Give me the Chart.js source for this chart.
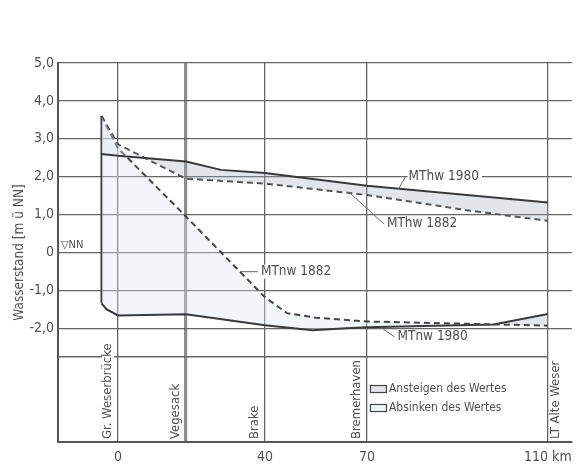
<!DOCTYPE html>
<html>
<head>
<meta charset="utf-8">
<script src="https://cdn.jsdelivr.net/npm/chart.js@4/dist/chart.umd.min.js"></script>
<style>
  html, body { margin: 0; padding: 0; background: #fff; }
  #wrap { width: 579px; height: 468px; }
</style>
</head>
<body>
<div id="wrap"><canvas id="myChart" width="579" height="468"></canvas></div>
<script>
// stations along the Weser (river km)
const stationNames = ["Gr. Weserbrücke", "Vegesack", "Brake", "Bremerhaven", "LT Alte Weser"];
const stationKm = [0, 18.5, 40, 70, 110];
const xTickLabels = ["0", "", "40", "70", "110 km"];
const yTickValues = [5, 4, 3, 2, 1, 0, -1, -2];

// mean tidal high water 1980 (solid)
const mthw1980Km = [-4.4, 0, 18.5, 28, 40, 70, 110];
const mthw1980 = [2.6, 2.55, 2.4, 2.18, 2.1, 1.76, 1.32];

// mean tidal high water 1882 (dashed)
const mthw1882Km = [-4.4, 0, 18.5, 40, 70, 93, 110];
const mthw1882 = [3.6, 2.85, 1.95, 1.82, 1.52, 1.1, 0.84];

// mean tidal low water 1882 (dashed)
const mtnw1882Km = [-4.4, 0, 18.5, 40, 46.5, 55, 70, 110];
const mtnw1882 = [3.6, 2.75, 0.95, -1.18, -1.6, -1.72, -1.82, -1.93];

// mean tidal low water 1980 (solid)
const mtnw1980Km = [-4.4, -3, 0, 18.5, 40, 54, 64, 70, 98, 110];
const mtnw1980 = [-1.34, -1.5, -1.66, -1.63, -1.92, -2.05, -2.0, -1.97, -1.9, -1.62];

// upstream end of the curves
const upstreamKm = [-4.4, -4.4];
const upstreamM = [3.6, -1.34];

const legendTexts = ["Ansteigen des Wertes", "Absinken des Wertes"];

const riseFill = "rgba(160,170,182,0.30)";
const fallFill = "rgba(222,230,242,0.38)";

// the drawing is not to scale along the river, so the km axis is stretched piecewise
const xKnots = [[-16, 0], [0, 0.1167], [40, 0.4027], [70, 0.6012], [110, 0.9533], [116, 1]];

function kmToDecimal(v) {
    for (let i = 1; i < xKnots.length; i++) {
        const a = xKnots[i - 1], b = xKnots[i];
        if (v <= b[0] || i === xKnots.length - 1) {
            return a[1] + (v - a[0]) * (b[1] - a[1]) / (b[0] - a[0]);
        }
    }
}
function decimalToKm(d) {
    for (let i = 1; i < xKnots.length; i++) {
        const a = xKnots[i - 1], b = xKnots[i];
        if (d <= b[1] || i === xKnots.length - 1) {
            return a[0] + (d - a[1]) * (b[0] - a[0]) / (b[1] - a[1]);
        }
    }
}

class KmScale extends Chart.LinearScale {
    getPixelForValue(value) {
        if (value === null || value === undefined || isNaN(value)) return NaN;
        return this.getPixelForDecimal(kmToDecimal(value));
    }
    getValueForPixel(pixel) {
        return decimalToKm(this.getDecimalForPixel(pixel));
    }
}
KmScale.id = "km";
KmScale.defaults = {};
Chart.register(KmScale);

function pts(xs, ys) {
    return xs.map((x, i) => ({ x: x, y: ys[i] }));
}

const fontFamily = "'DejaVu Sans Condensed', 'Liberation Sans Narrow', sans-serif";
Chart.defaults.font.family = fontFamily;
Chart.defaults.color = "#505050";

const seriesLabels = [
    { text: "MThw 1980", ds: 0, km: 77, dx: 7, dy: -12 },
    { text: "MThw 1882", ds: 1, km: 65, dx: 34, dy: 31 },
    { text: "MTnw 1882", ds: 2, km: 33.2, dx: 18, dy: 0 },
    { text: "MTnw 1980", ds: 3, km: 73, dx: 14, dy: 10 },
];

const annotate = {
    id: "annotate",
    beforeDatasetsDraw(chart) {
        const { ctx, scales: { x, y } } = chart;
        // line above the station names
        ctx.save();
        ctx.strokeStyle = "#666";
        ctx.lineWidth = 1.3;
        const yy = y.getPixelForValue(-2.75);
        ctx.beginPath();
        ctx.moveTo(x.left, yy);
        ctx.lineTo(x.getPixelForValue(110), yy);
        ctx.stroke();
        ctx.restore();
    },
    afterDraw(chart) {
        const { ctx, scales: { x, y } } = chart;
        ctx.save();
        ctx.font = "13px " + fontFamily;
        ctx.fillStyle = "#505050";

        // station names, written upwards
        stationNames.forEach((name, i) => {
            const px = x.getPixelForValue(stationKm[i]) + (i === stationNames.length - 1 ? 8 : -10);
            const py = y.bottom - 3;
            const w = ctx.measureText(name).width;
            ctx.save();
            ctx.translate(px, py);
            ctx.rotate(-Math.PI / 2);
            ctx.fillStyle = "#fff";
            ctx.fillRect(-1, -6, w + 2, 12);
            ctx.fillStyle = "#505050";
            ctx.textAlign = "left";
            ctx.textBaseline = "middle";
            ctx.fillText(name, 0, 0);
            ctx.restore();
        });

        // curve names with leader lines
        ctx.font = "13.5px " + fontFamily;
        ctx.textBaseline = "middle";
        ctx.textAlign = "left";
        seriesLabels.forEach(l => {
            const line = chart.getDatasetMeta(l.ds).dataset;
            const p = line.interpolate({ x: x.getPixelForValue(l.km) }, "x");
            const ex = p.x + l.dx, ey = p.y + l.dy;
            ctx.strokeStyle = "#666";
            ctx.lineWidth = 1;
            ctx.beginPath();
            ctx.moveTo(p.x, p.y);
            ctx.lineTo(ex, ey);
            ctx.stroke();
            const w = ctx.measureText(l.text).width;
            ctx.fillStyle = "#fff";
            ctx.fillRect(ex + 2, ey - 7, w + 4, 14);
            ctx.fillStyle = "#505050";
            ctx.fillText(l.text, ex + 3, ey);
        });

        // legend
        ctx.font = "12px " + fontFamily;
        const lx = x.getPixelForValue(70) + 3;
        [riseFill, fallFill].forEach((c, i) => {
            const ly = 389 + i * 19;
            ctx.fillStyle = "#fff";
            ctx.fillRect(lx, ly - 4, 17, 8);
            ctx.fillStyle = c;
            ctx.fillRect(lx, ly - 4, 17, 8);
            ctx.strokeStyle = "#444";
            ctx.lineWidth = 1.2;
            ctx.strokeRect(lx + 0.5, ly - 3.5, 16, 7);
            ctx.fillStyle = "#505050";
            ctx.fillText(legendTexts[i], lx + 19, ly);
        });

        // datum mark at zero
        ctx.font = "11px " + fontFamily;
        ctx.fillText("\u25BDNN", x.left + 3, y.getPixelForValue(0) - 7);
        ctx.restore();
    }
};

const solid = { borderColor: "#3a3a3a", borderWidth: 2, pointRadius: 0 };
const dashed = { borderColor: "#454545", borderWidth: 2, borderDash: [6, 4], pointRadius: 0 };

new Chart(document.getElementById("myChart"), {
    type: "line",
    data: {
        datasets: [
            Object.assign({ label: "MThw 1980", data: pts(mthw1980Km, mthw1980),
                fill: { target: 1, above: riseFill, below: fallFill } }, solid),
            Object.assign({ label: "MThw 1882", data: pts(mthw1882Km, mthw1882), fill: false }, dashed),
            Object.assign({ label: "MTnw 1882", data: pts(mtnw1882Km, mtnw1882), fill: false }, dashed),
            Object.assign({ label: "MTnw 1980", data: pts(mtnw1980Km, mtnw1980),
                fill: { target: 2, above: riseFill, below: fallFill } }, solid),
            Object.assign({ label: "", data: pts(upstreamKm, upstreamM), fill: false }, solid),
        ],
    },
    options: {
        responsive: false,
        animation: false,
        devicePixelRatio: 1,
        layout: { padding: { left: 8, top: 63, right: 7, bottom: 0 } },
        plugins: { legend: { display: false }, tooltip: { enabled: false } },
        elements: { line: { tension: 0 } },
        scales: {
            x: {
                type: "km",
                min: -16,
                max: 116,
                afterBuildTicks: s => { s.ticks = stationKm.map(v => ({ value: v })); },
                afterFit: s => { s.height = 26; },
                grid: {
                    drawTicks: false,
                    color: c => (c.tick && c.tick.value === 18.5 ? "#8c8c8c" : "#666"),
                    lineWidth: c => (c.tick && c.tick.value === 18.5 ? 3.2 : 1.3),
                },
                border: { color: "#555", width: 2 },
                ticks: {
                    autoSkip: false,
                    maxRotation: 0,
                    padding: 7,
                    font: { size: 14 },
                    callback: v => xTickLabels[stationKm.indexOf(v)] || "",
                },
            },
            y: {
                min: -5,
                max: 5,
                afterBuildTicks: s => { s.ticks = [-5].concat(yTickValues.slice().reverse()).map(v => ({ value: v })); },
                afterFit: s => { s.width = 50; },
                grid: { drawTicks: false, color: "#666", lineWidth: 1.3 },
                border: { color: "#555", width: 2 },
                ticks: {
                    padding: 4,
                    font: { size: 14 },
                    callback: v => (yTickValues.includes(v) ? (v === 0 ? "0" : v.toFixed(1).replace(".", ",")) : ""),
                },
                title: {
                    display: true,
                    text: "Wasserstand [m ü NN]",
                    font: { size: 13.5 },
                    padding: { top: 3, bottom: 0 },
                },
            },
        },
    },
    plugins: [annotate],
});
</script>
</body>
</html>
